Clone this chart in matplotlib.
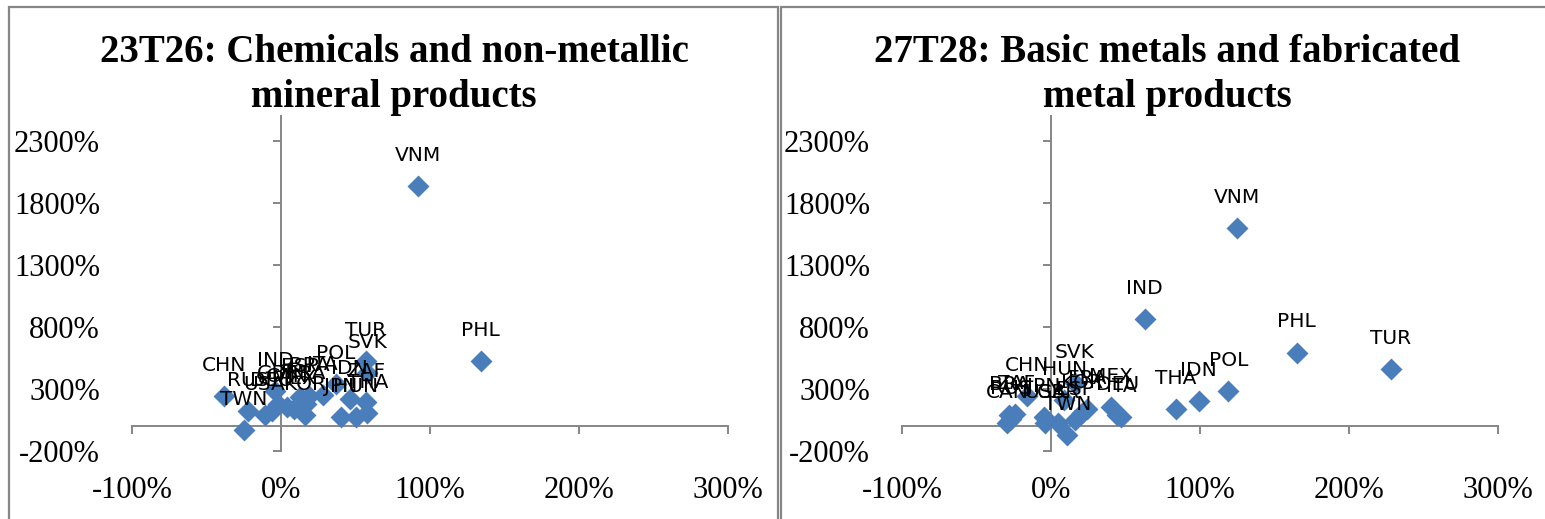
import matplotlib.pyplot as plt
from matplotlib.patches import Rectangle

# country codes, same order in both panels
countries = ["BRA", "CAN", "CHN", "DEU", "ESP", "FRA", "GBR", "HUN", "IDN", "IND", "ITA", "JPN",
             "KOR", "MEX", "PHL", "POL", "RUS", "SVK", "THA", "TUR", "TWN", "USA", "VNM", "ZAF"]

# 23T26 chemicals (values in %)
chem_x = [19, 4, -38, -6, 13, 17, -2, 50, 46, -4, 28, 40,
          16, 9, 134, 37, -22, 58, 58, 57, -25, -11, 92, 57]
chem_y = [240, 153, 242, 121, 233, 175, 177, 72, 218, 285, 250, 72,
          89, 137, 524, 338, 121, 430, 105, 524, -32, 89, 1935, 193]

# 27T28 basic metals (values in %)
metal_x = [-28, -29.5, -16, 44.5, 16, 24, 5, 9, 99, 63, 47, -5,
           21, 40, 165, 119, -27, 16, 84, 228, 11, -4, 125, -24]
metal_y = [88, 22, 240, 88, 48, 140, 21, 210, 201, 862, 70, 74,
           105, 155, 593, 281, 60, 350, 134, 459, -73, 25, 1597, 95]

titles = [["23T26: Chemicals and non-metallic", "mineral products"],
          ["27T28: Basic metals and fabricated", "metal products"]]

xticks = [-100, 0, 100, 200, 300]
yticks = [-200, 300, 800, 1300, 1800, 2300]

W, H = 1545, 519
GREY = "#868686"
BLUE = "#4A7EBB"

fig = plt.figure(figsize=(W / 100, H / 100), dpi=100)

# chart frames (bottom edge is cut off in the original)
fig.add_artist(Rectangle((9 / W, -0.1), (778 - 9) / W, 1.1 - 7.5 / H, transform=fig.transFigure,
                         fill=False, ec=GREY, lw=1.6))
fig.add_artist(Rectangle((780.5 / W, -0.1), 0.6, 1.1 - 7.5 / H, transform=fig.transFigure,
                         fill=False, ec=GREY, lw=1.6))


def draw_panel(left_px, xs, ys, title, title_cx):
    ax = fig.add_axes([left_px / W, 1 - 450.8 / H, 596 / W, (450.8 - 116.2) / H])
    ax.scatter(xs, ys, marker="D", s=125, color=BLUE, zorder=3, linewidths=0)
    for name, x, y in zip(countries, xs, ys):
        ax.annotate(name, (x, y), xytext=(0, 22), textcoords="offset points",
                    ha="center", va="center", fontsize=14.5, family="DejaVu Sans", zorder=4)
    ax.set_xlim(-100, 300)
    ax.set_ylim(-200, 2500)
    ax.set_facecolor("none")

    # axis lines cross at zero, labels sit on the outer edges like Excel
    for s in ["top", "right"]:
        ax.spines[s].set_visible(False)
    ax.spines["left"].set_position(("data", 0))
    ax.spines["bottom"].set_position(("data", 0))
    for s in ["left", "bottom"]:
        ax.spines[s].set_color(GREY)
        ax.spines[s].set_linewidth(1.4)
    ax.set_xticks(xticks)
    ax.set_yticks(yticks)
    ax.tick_params(direction="out", length=6, width=1.4, color=GREY,
                   labelleft=False, labelbottom=False)

    secy = ax.secondary_yaxis("left")
    secy.set_yticks(yticks)
    secy.set_yticklabels([f"{v}%" for v in yticks])
    secy.spines["left"].set_visible(False)
    secy.tick_params(length=0, pad=23, labelsize=22)
    for t in secy.get_yticklabels():
        t.set_family("Liberation Serif")

    secx = ax.secondary_xaxis("bottom")
    secx.set_xticks(xticks)
    secx.set_xticklabels([f"{v}%" for v in xticks])
    secx.spines["bottom"].set_visible(False)
    secx.tick_params(length=0, pad=18, labelsize=22)
    for t in secx.get_xticklabels():
        t.set_family("Liberation Serif")

    fig.text(title_cx / W, 1 - 52 / H, title[0], ha="center", va="center",
             fontsize=28, fontweight="bold", family="Liberation Serif")
    fig.text(title_cx / W, 1 - 97 / H, title[1], ha="center", va="center",
             fontsize=28, fontweight="bold", family="Liberation Serif")
    return ax


draw_panel(132, chem_x, chem_y, titles[0], 394)
draw_panel(902, metal_x, metal_y, titles[1], 1167)

fig.savefig("out.png", dpi=100)
